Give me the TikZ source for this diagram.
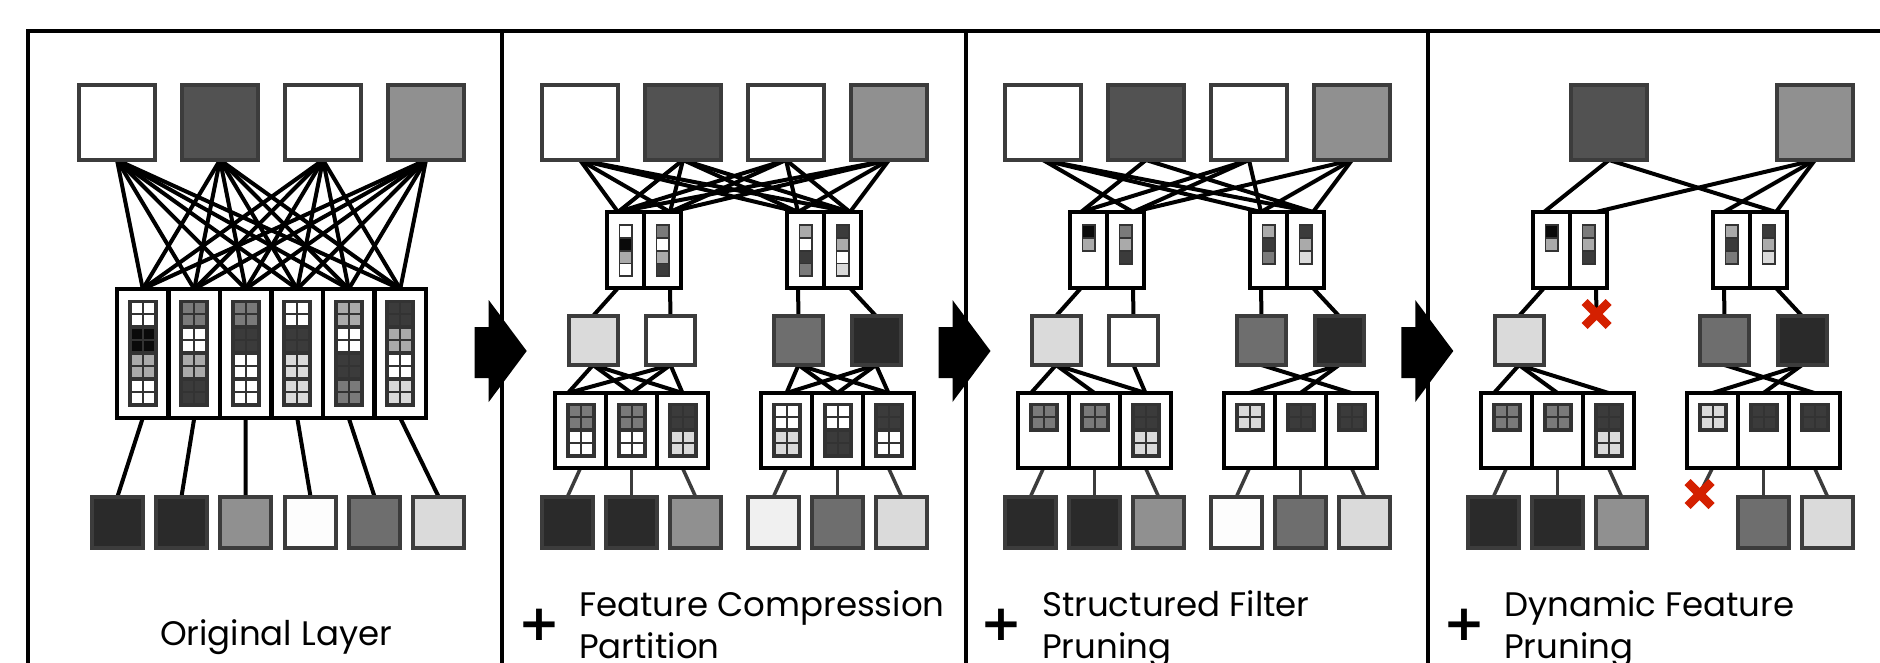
\documentclass[tikz,border=0pt]{standalone}
\usepackage{fontspec}
\setmainfont{Poppins}
\newfontfamily\plusfont{DejaVu Sans}
\usetikzlibrary{shapes.misc}
\pgfdeclarelayer{bg}
\pgfdeclarelayer{paper}
\pgfsetlayers{paper,bg,main}

\definecolor{bord}{HTML}{3C3C3C}
\definecolor{kfr}{HTML}{333333}
\definecolor{cW}{HTML}{FFFFFF}
\definecolor{cK}{HTML}{0A0A0A}
\definecolor{cG}{HTML}{AAAAAA}
\definecolor{cM}{HTML}{7A7A7A}
\definecolor{cD}{HTML}{3B3B3B}
\definecolor{cL}{HTML}{DADADA}
\definecolor{gA}{HTML}{525252}
\definecolor{gB}{HTML}{909090}
\definecolor{gK}{HTML}{2A2A2A}
\definecolor{gF}{HTML}{F0F0F0}
\definecolor{gW}{HTML}{FDFDFD}
\definecolor{gM}{HTML}{6E6E6E}
\definecolor{gL}{HTML}{DADADA}
\definecolor{xred}{RGB}{212,32,0}

\newcommand{\kgrid}[3]{%
  \foreach \kc [count=\kj] in {#3}{\xdef\kn{\kj}}%
  \fill[kfr] ({#1-15},{#2}) rectangle ({#1+15},{#2+3.3+25.9*(\kn-1)+22+3.7});
  \foreach \kc [count=\kj from 0] in {#3}{%
    \fill[\kc] ({#1-11},{#2+3.3+25.9*\kj}) rectangle ++(10,10);
    \fill[\kc] ({#1+1},{#2+3.3+25.9*\kj}) rectangle ++(10,10);
    \fill[\kc] ({#1-11},{#2+15.3+25.9*\kj}) rectangle ++(10,10);
    \fill[\kc] ({#1+1},{#2+15.3+25.9*\kj}) rectangle ++(10,10);
  }%
}
\newcommand{\kstrip}[3]{%
  \foreach \kc [count=\kj] in {#3}{\xdef\kn{\kj}}%
  \fill[kfr] ({#1-7},{#2}) rectangle ({#1+7},{#2+2+12.8*(\kn-1)+11+2});
  \foreach \kc [count=\kj from 0] in {#3}{%
    \fill[\kc] ({#1-5.3},{#2+2+12.8*\kj}) rectangle ++(10.6,11);
  }%
}

\tikzset{
  fm/.style={draw=bord, line width=4pt, inner sep=0, outer sep=0, minimum width=76pt, minimum height=75pt},
  ms/.style={draw=bord, line width=4pt, inner sep=0, outer sep=0, minimum size=49pt},
  bs/.style={draw=bord, line width=4pt, inner sep=0, outer sep=0, minimum size=51pt},
  cellbig/.style={draw=black, line width=4.5pt, fill=white, inner sep=0, outer sep=0, minimum width=51.5pt, minimum height=129pt},
  cellmid/.style={draw=black, line width=4pt, fill=white, inner sep=0, outer sep=0, minimum width=37pt, minimum height=76pt},
  cellbot/.style={draw=black, line width=4pt, fill=white, inner sep=0, outer sep=0, minimum width=51pt, minimum height=75pt},
  wire/.style={line width=4pt, black},
  gwire/.style={line width=3.5pt, bord},
  cut/.style={cross out, draw=xred, line width=8.5pt, minimum size=24pt, inner sep=0, outer sep=0},
  bigarrow/.style={fill=black},
  frame/.style={line width=4pt, black},
  lab/.style={font=\fontsize{34}{42}\selectfont, inner sep=0, align=left},
  plus/.style={font=\plusfont\bfseries\fontsize{50}{50}\selectfont, inner sep=0},
}

\begin{document}
\begin{tikzpicture}[x=1pt,y=-1pt,line join=miter]
\useasboundingbox (0,0) rectangle (1880,662);
\clip (0,0) rectangle (1880,662);
\begin{pgfonlayer}{paper}
\fill[white] (0,0) rectangle (1880,662);
\end{pgfonlayer}

% frame
\draw[frame] (28,700) -- (28,30.6) -- (1900,30.6);
\foreach \D in {501.7,965.5,1428.3}{
  \draw[frame] (\D,30.6) -- (\D,700);
  \fill[bigarrow] ({\D-27},327) -- ({\D-13},327) -- ({\D-13},300) -- ({\D+25},351)
     -- ({\D-13},402) -- ({\D-13},378) -- ({\D-27},378) -- cycle;
}

% ================= Panel 1 =================
\foreach \i/\x/\kc in {1/117/white,2/220/gA,3/323/white,4/426/gB}
  \node[fm, fill=\kc] (a\i) at (\x,122.5) {};
\foreach \i in {1,...,6}
  \node[cellbig] (ac\i) at ({117+51.5*(\i-0.5)},353.5) {};
\kgrid{142.75}{300}{cW,cK,cG,cW}
\kgrid{194.25}{300}{cM,cW,cG,cD}
\kgrid{245.75}{300}{cM,cD,cW,cW}
\kgrid{297.25}{300}{cW,cD,cL,cL}
\kgrid{348.75}{300}{cG,cW,cD,cM}
\kgrid{400.25}{300}{cD,cG,cW,cL}
\foreach \i/\x/\kc in {1/117.5/gK,2/181.5/gK,3/245.5/gB,4/310.5/gW,5/374.5/gM,6/438.5/gL}
  \node[bs, fill=\kc] (ab\i) at (\x,522) {};
\begin{pgfonlayer}{bg}
\foreach \i in {1,...,4}
  \foreach \j in {1,...,6}
    \draw[wire] (a\i.south) -- (ac\j.north);
\foreach \j in {1,...,6}
  \draw[wire] (ac\j.south) -- (ab\j.north);
\end{pgfonlayer}
\node[lab, anchor=base] (t1) at (276,645) {Original Layer};

% ================= Panel 2 =================
\foreach \i/\x/\kc in {1/580/white,2/683/gA,3/786/white,4/889/gB}
  \node[fm, fill=\kc] (b\i) at (\x,122.5) {};
\node[cellmid] (bL1) at (625.5,250) {};
\node[cellmid] (bL2) at (662.5,250) {};
\node[cellmid] (bR1) at (805.5,250) {};
\node[cellmid] (bR2) at (842.5,250) {};
\kstrip{625.5}{224}{cW,cK,cG,cW}
\kstrip{662.5}{224}{cM,cW,cG,cD}
\kstrip{805.5}{224}{cG,cW,cD,cM}
\kstrip{842.5}{224}{cD,cG,cW,cL}
\foreach \i/\x/\kc in {1/593/gL,2/670.5/white,3/798.5/gM,4/876/gK}
  \node[ms, fill=\kc] (bm\i) at (\x,340.5) {};
\foreach \i/\x in {1/580.5,2/631.5,3/682.5,4/786.5,5/837.5,6/888.5}
  \node[cellbot] (bB\i) at (\x,430.5) {};
\kgrid{580.5}{403}{cM,cW}
\kgrid{631.5}{403}{cM,cW}
\kgrid{682.5}{403}{cD,cL}
\kgrid{786.5}{403}{cW,cL}
\kgrid{837.5}{403}{cW,cD}
\kgrid{888.5}{403}{cD,cW}
\foreach \i/\x/\kc in {1/567.5/gK,2/631.5/gK,3/695.5/gB,4/773.5/gF,5/837.5/gM,6/901.5/gL}
  \node[bs, fill=\kc] (bb\i) at (\x,522) {};
\begin{pgfonlayer}{bg}
\foreach \i in {1,...,4}{
  \draw[wire] (b\i.south) -- ([xshift=-7.5pt]bL1.north);
  \draw[wire] (b\i.south) -- ([xshift=7.5pt]bL2.north);
  \draw[wire] (b\i.south) -- ([xshift=-7.5pt]bR1.north);
  \draw[wire] (b\i.south) -- ([xshift=7.5pt]bR2.north);
}
\draw[wire] ([xshift=-7.5pt]bL1.south) -- (bm1.north);
\draw[wire] ([xshift=7.5pt]bL2.south) -- (bm2.north);
\draw[wire] ([xshift=-7.5pt]bR1.south) -- (bm3.north);
\draw[wire] ([xshift=7.5pt]bR2.south) -- (bm4.north);
\foreach \m in {1,2}{
  \draw[wire] (bm\m.south) -- ([xshift=-12.5pt]bB1.north);
  \draw[wire] (bm\m.south) -- (bB2.north);
  \draw[wire] (bm\m.south) -- (bB3.north);
}
\foreach \m in {3,4}{
  \draw[wire] (bm\m.south) -- (bB4.north);
  \draw[wire] (bm\m.south) -- (bB5.north);
  \draw[wire] (bm\m.south) -- (bB6.north);
}
\foreach \j in {1,...,6}
  \draw[gwire] (bB\j.south) -- (bb\j.north);
\end{pgfonlayer}
\node[plus] (p2) at (539,625) {+};
\node[lab, anchor=north west] (t2) at (579,590) {Feature Compression\\Partition};

% ================= Panel 3 =================
\begin{scope}[xshift=463pt]
\foreach \i/\x/\kc in {1/580/white,2/683/gA,3/786/white,4/889/gB}
  \node[fm, fill=\kc] (c\i) at (\x,122.5) {};
\node[cellmid] (cL1) at (625.5,250) {};
\node[cellmid] (cL2) at (662.5,250) {};
\node[cellmid] (cR1) at (805.5,250) {};
\node[cellmid] (cR2) at (842.5,250) {};
\kstrip{625.5}{224}{cK,cG}
\kstrip{662.5}{224}{cM,cG,cD}
\kstrip{805.5}{224}{cG,cD,cM}
\kstrip{842.5}{224}{cD,cG,cL}
\foreach \i/\x/\kc in {1/593/gL,2/670.5/white,3/798.5/gM,4/876/gK}
  \node[ms, fill=\kc] (cm\i) at (\x,340.5) {};
\foreach \i/\x in {1/580.5,2/631.5,3/682.5,4/786.5,5/837.5,6/888.5}
  \node[cellbot] (cB\i) at (\x,430.5) {};
\kgrid{580.5}{403}{cM}
\kgrid{631.5}{403}{cM}
\kgrid{682.5}{403}{cD,cL}
\kgrid{786.5}{403}{cL}
\kgrid{837.5}{403}{cD}
\kgrid{888.5}{403}{cD}
\foreach \i/\x/\kc in {1/567.5/gK,2/631.5/gK,3/695.5/gB,4/773.5/gW,5/837.5/gM,6/901.5/gL}
  \node[bs, fill=\kc] (cb\i) at (\x,522) {};
\end{scope}
\begin{pgfonlayer}{bg}
\draw[wire] (c1.south) -- ([xshift=7.5pt]cL2.north);
\draw[wire] (c1.south) -- ([xshift=-7.5pt]cR1.north);
\draw[wire] (c1.south) -- ([xshift=7.5pt]cR2.north);
\draw[wire] (c2.south) -- ([xshift=-7.5pt]cL1.north);
\draw[wire] (c2.south) -- ([xshift=7.5pt]cR2.north);
\draw[wire] (c3.south) -- ([xshift=-7.5pt]cL1.north);
\draw[wire] (c3.south) -- ([xshift=7.5pt]cL2.north);
\draw[wire] (c3.south) -- ([xshift=-7.5pt]cR1.north);
\draw[wire] (c4.south) -- ([xshift=7.5pt]cL2.north);
\draw[wire] (c4.south) -- ([xshift=-7.5pt]cR1.north);
\draw[wire] (c4.south) -- ([xshift=7.5pt]cR2.north);
\draw[wire] ([xshift=-7.5pt]cL1.south) -- (cm1.north);
\draw[wire] ([xshift=7.5pt]cL2.south) -- (cm2.north);
\draw[wire] ([xshift=-7.5pt]cR1.south) -- (cm3.north);
\draw[wire] ([xshift=7.5pt]cR2.south) -- (cm4.north);
\draw[wire] (cm1.south) -- ([xshift=-12.5pt]cB1.north);
\draw[wire] (cm1.south) -- (cB2.north);
\draw[wire] (cm1.south) -- (cB3.north);
\draw[wire] (cm2.south) -- (cB3.north);
\draw[wire] (cm3.south) -- (cB6.north);
\draw[wire] (cm4.south) -- (cB4.north);
\draw[wire] (cm4.south) -- (cB5.north);
\foreach \j in {1,...,6}
  \draw[gwire] (cB\j.south) -- (cb\j.north);
\end{pgfonlayer}
\node[plus] (p3) at (1001.5,625) {+};
\node[lab, anchor=north west] (t3) at (1042,590) {Structured Filter\\Pruning};

% ================= Panel 4 =================
\begin{scope}[xshift=926pt]
\node[fm, fill=gA] (d2) at (683,122.5) {};
\node[fm, fill=gB] (d4) at (889,122.5) {};
\node[cellmid] (dL1) at (625.5,250) {};
\node[cellmid] (dL2) at (662.5,250) {};
\node[cellmid] (dR1) at (805.5,250) {};
\node[cellmid] (dR2) at (842.5,250) {};
\kstrip{625.5}{224}{cK,cG}
\kstrip{662.5}{224}{cM,cG,cD}
\kstrip{805.5}{224}{cG,cD,cM}
\kstrip{842.5}{224}{cD,cG,cL}
\node[ms, fill=gL] (dm1) at (593,340.5) {};
\node[ms, fill=gM] (dm3) at (798.5,340.5) {};
\node[ms, fill=gK] (dm4) at (876,340.5) {};
\foreach \i/\x in {1/580.5,2/631.5,3/682.5,4/786.5,5/837.5,6/888.5}
  \node[cellbot] (dB\i) at (\x,430.5) {};
\kgrid{580.5}{403}{cM}
\kgrid{631.5}{403}{cM}
\kgrid{682.5}{403}{cD,cL}
\kgrid{786.5}{403}{cL}
\kgrid{837.5}{403}{cD}
\kgrid{888.5}{403}{cD}
\foreach \i/\x/\kc in {1/567.5/gK,2/631.5/gK,3/695.5/gB,5/837.5/gM,6/901.5/gL}
  \node[bs, fill=\kc] (db\i) at (\x,522) {};
\node[cut] (dx1) at (670.5,314) {};
\node[cut] (dx2) at (773.5,494) {};
\end{scope}
\begin{pgfonlayer}{bg}
\draw[wire] (d2.south) -- ([xshift=-7.5pt]dL1.north);
\draw[wire] (d2.south) -- ([xshift=7.5pt]dR2.north);
\draw[wire] (d4.south) -- ([xshift=7.5pt]dL2.north);
\draw[wire] (d4.south) -- ([xshift=-7.5pt]dR1.north);
\draw[wire] (d4.south) -- ([xshift=7.5pt]dR2.north);
\draw[wire] ([xshift=-7.5pt]dL1.south) -- (dm1.north);
\draw[wire] ([xshift=7.5pt]dL2.south) -- (dx1.center);
\draw[wire] ([xshift=-7.5pt]dR1.south) -- (dm3.north);
\draw[wire] ([xshift=7.5pt]dR2.south) -- (dm4.north);
\draw[wire] (dm1.south) -- ([xshift=-12.5pt]dB1.north);
\draw[wire] (dm1.south) -- (dB2.north);
\draw[wire] (dm1.south) -- (dB3.north);
\draw[wire] (dm3.south) -- (dB6.north);
\draw[wire] (dm4.south) -- (dB4.north);
\draw[wire] (dm4.south) -- (dB5.north);
\foreach \j in {1,2,3,5,6}
  \draw[gwire] (dB\j.south) -- (db\j.north);
\draw[gwire] (dB4.south) -- (dx2.center);
\end{pgfonlayer}
\node[plus] (p4) at (1464,625) {+};
\node[lab, anchor=north west] (t4) at (1504,590) {Dynamic Feature\\Pruning};
\end{tikzpicture}
\end{document}
